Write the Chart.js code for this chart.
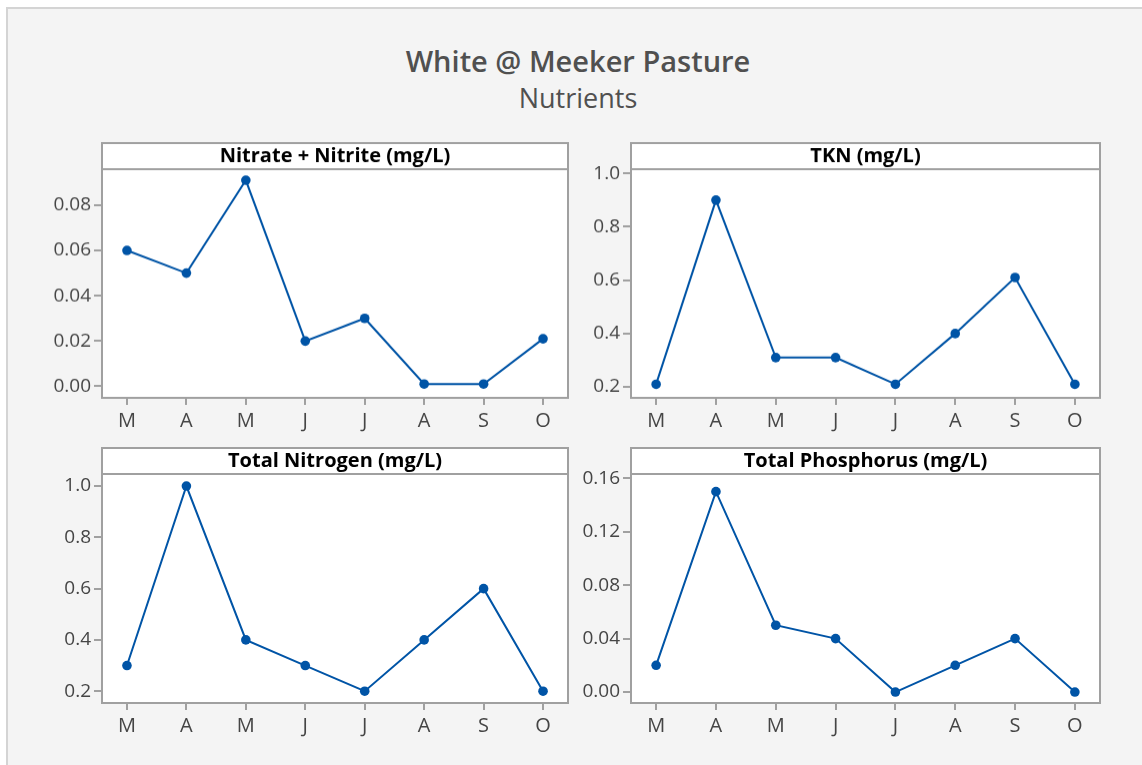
<!DOCTYPE html>
<html>
<head>
<meta charset="utf-8">
<script src="https://cdn.jsdelivr.net/npm/chart.js@4"></script>
<style>
  html, body { margin: 0; padding: 0; background: #ffffff; width: 1142px; height: 765px; overflow: hidden; }
  #frame { position: absolute; left: 6px; top: 7px; width: 1160px; height: 780px; background: #f4f4f4;
           border-top: 2px solid #d4d4d4; border-left: 2px solid #d4d4d4; box-sizing: border-box; }
  .ttl { position: absolute; left: 0; width: 1156px; text-align: center; color: #505050;
         font-family: "Open Sans", sans-serif; white-space: nowrap; }
  #t1 { top: 46px; font-size: 29px; line-height: 29px; font-weight: 600; }
  #t2 { top: 84px; font-size: 27px; line-height: 27px; font-weight: 400; }
  canvas { position: absolute; }
</style>
</head>
<body>
<div id="frame"></div>
<div class="ttl" id="t1">White @ Meeker Pasture</div>
<div class="ttl" id="t2">Nutrients</div>
<canvas id="c1"></canvas>
<canvas id="c2"></canvas>
<canvas id="c3"></canvas>
<canvas id="c4"></canvas>
<script>
// ---- data ----
const months = ['M', 'A', 'M', 'J', 'J', 'A', 'S', 'O'];
const nitrateNitrite = [0.060, 0.050, 0.091, 0.020, 0.030, 0.001, 0.001, 0.021];
const tkn = [0.21, 0.90, 0.31, 0.31, 0.21, 0.40, 0.61, 0.21];
const totalNitrogen = [0.30, 1.00, 0.40, 0.30, 0.20, 0.40, 0.60, 0.20];
const totalPhosphorus = [0.020, 0.150, 0.050, 0.040, 0.000, 0.020, 0.040, 0.000];
const nitrateTicks = [0.00, 0.02, 0.04, 0.06, 0.08];
const tknTicks = [0.2, 0.4, 0.6, 0.8, 1.0];
const nitrogenTicks = [0.2, 0.4, 0.6, 0.8, 1.0];
const phosphorusTicks = [0.00, 0.04, 0.08, 0.12, 0.16];
const panelTitles = ['Nitrate + Nitrite (mg/L)', 'TKN (mg/L)', 'Total Nitrogen (mg/L)', 'Total Phosphorus (mg/L)'];

// ---- styling / layout ----
const LINE = '#0054a6';
const AXIS = '#a0a0a0';
const TXT = '#454545';
const FONT = '"Open Sans", sans-serif';
const YAXW = 102, XAXH = 40, PADTOP = 40, PADR = 10, PADB = 5;

const panels = [
  { id: 'c1', data: nitrateNitrite, ticks: nitrateTicks, dec: 2, min: -0.0051, max: 0.0959, area: [102, 568, 169, 397.5], title: panelTitles[0] },
  { id: 'c2', data: tkn, ticks: tknTicks, dec: 1, min: 0.159, max: 1.016, area: [631, 1100, 169, 397.5], title: panelTitles[1] },
  { id: 'c3', data: totalNitrogen, ticks: nitrogenTicks, dec: 1, min: 0.154, max: 1.047, area: [102, 568, 474, 703], title: panelTitles[2] },
  { id: 'c4', data: totalPhosphorus, ticks: phosphorusTicks, dec: 2, min: -0.0082, max: 0.1632, area: [631, 1100, 474, 703], title: panelTitles[3] }
];

const panelPlugin = {
  id: 'panelFrame',
  beforeDraw(chart) {
    const { ctx, chartArea: a } = chart;
    ctx.save();
    ctx.fillStyle = '#ffffff';
    ctx.fillRect(a.left, a.top - 26, a.right - a.left, a.bottom - a.top + 26);
    ctx.restore();
  },
  beforeDatasetsDraw(chart) {
    const { ctx, chartArea: a } = chart;
    const t = chart.options.plugins.panelFrame.title;
    ctx.save();
    ctx.strokeStyle = AXIS;
    ctx.lineWidth = 2;
    ctx.strokeRect(a.left, a.top - 26, a.right - a.left, 26);
    ctx.strokeRect(a.left, a.top, a.right - a.left, a.bottom - a.top);
    ctx.fillStyle = '#000000';
    ctx.font = 'bold 20px ' + FONT;
    ctx.textAlign = 'center';
    ctx.textBaseline = 'middle';
    ctx.fillText(t, (a.left + a.right) / 2, a.top - 13);
    ctx.restore();
  }
};

panels.forEach(p => {
  const [L, R, T, B] = p.area;
  const cv = document.getElementById(p.id);
  const w = (R - L) + YAXW + PADR;
  const h = (B - T) + PADTOP + XAXH + PADB;
  cv.width = w; cv.height = h;
  cv.style.width = w + 'px'; cv.style.height = h + 'px';
  cv.style.left = (L - YAXW) + 'px';
  cv.style.top = (T - PADTOP) + 'px';
  new Chart(cv, {
    type: 'line',
    data: {
      datasets: [{
        data: p.data.map((v, i) => ({ x: i, y: v })),
        borderColor: LINE,
        backgroundColor: LINE,
        borderWidth: 2,
        pointRadius: 4.8,
        pointHoverRadius: 4.8,
        pointBackgroundColor: LINE,
        pointBorderWidth: 0,
        tension: 0,
        clip: false
      }]
    },
    options: {
      responsive: false,
      animation: false,
      devicePixelRatio: 1,
      layout: { padding: { left: 0, right: PADR, top: PADTOP, bottom: PADB } },
      plugins: {
        legend: { display: false },
        tooltip: { enabled: false },
        title: { display: false },
        panelFrame: { title: p.title }
      },
      scales: {
        x: {
          type: 'linear',
          min: -0.42, max: 7.42,
          afterBuildTicks: s => { s.ticks = months.map((m, i) => ({ value: i })); },
          afterFit: s => { s.height = XAXH; },
          ticks: {
            autoSkip: false, maxRotation: 0, padding: 4,
            color: TXT, font: { family: FONT, size: 20 },
            callback: v => months[v]
          },
          grid: { display: true, drawOnChartArea: false, drawTicks: true, tickLength: 7, color: AXIS, lineWidth: 2 },
          border: { display: false }
        },
        y: {
          min: p.min, max: p.max,
          afterBuildTicks: s => { s.ticks = p.ticks.map(v => ({ value: v })); },
          afterFit: s => { s.width = YAXW; },
          ticks: {
            padding: 3, color: TXT, font: { family: FONT, size: 19 },
            callback: v => Number(v).toFixed(p.dec)
          },
          grid: { display: true, drawOnChartArea: false, drawTicks: true, tickLength: 8, color: AXIS, lineWidth: 2 },
          border: { display: false }
        }
      }
    },
    plugins: [panelPlugin]
  });
});
</script>
</body>
</html>
